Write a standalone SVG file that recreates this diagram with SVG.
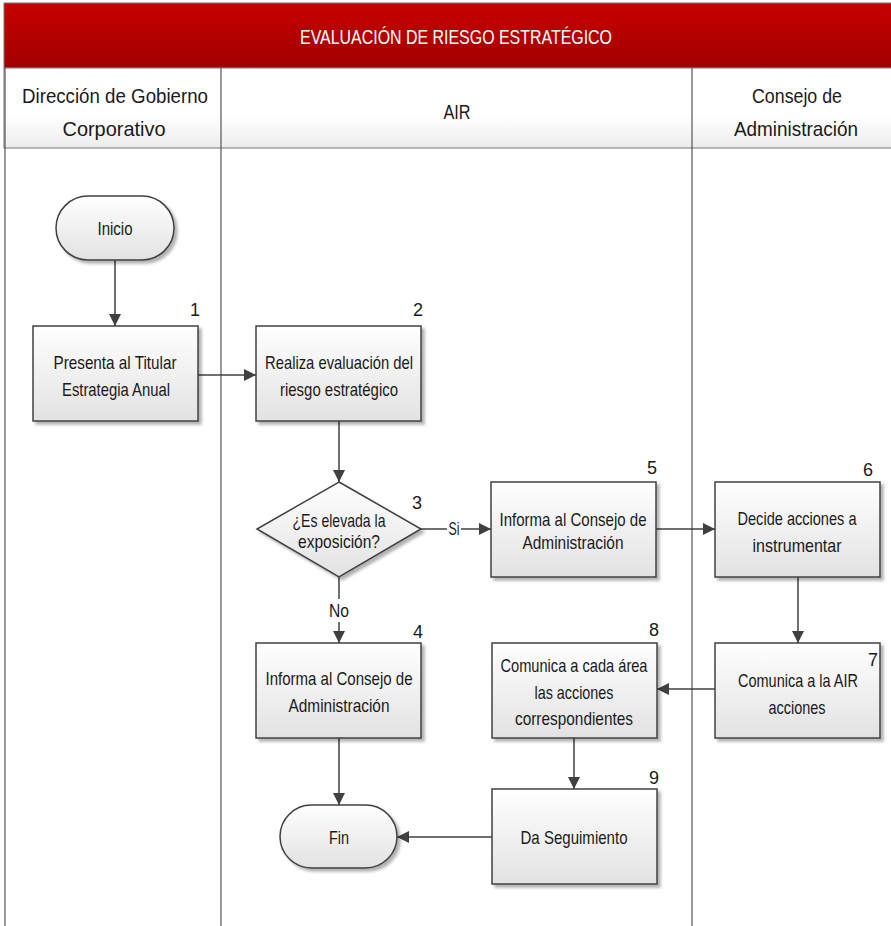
<svg xmlns="http://www.w3.org/2000/svg" width="891" height="926" viewBox="0 0 891 926">
<defs>
<linearGradient id="gBox" x1="0" y1="0" x2="0" y2="1"><stop offset="0" stop-color="#ffffff"/><stop offset="1" stop-color="#e2e2e2"/></linearGradient>
<linearGradient id="gRed" x1="0" y1="0" x2="0" y2="1"><stop offset="0" stop-color="#c80000"/><stop offset="1" stop-color="#a00000"/></linearGradient>
<linearGradient id="gHead" x1="0" y1="0" x2="0" y2="1"><stop offset="0" stop-color="#ffffff"/><stop offset="0.6" stop-color="#ffffff"/><stop offset="1" stop-color="#ececec"/></linearGradient>
<filter id="sh" x="-10%" y="-10%" width="130%" height="130%"><feDropShadow dx="3" dy="3" stdDeviation="1.5" flood-color="#000" flood-opacity="0.3"/></filter>
<marker id="arr" markerUnits="userSpaceOnUse" markerWidth="12" markerHeight="12" viewBox="0 0 12 12" refX="12" refY="6" orient="auto"><path d="M0,0 L12,6 L0,12 z" fill="#404040"/></marker>
<style>
text{font-family:"Liberation Sans",Arial,sans-serif;text-anchor:middle}
.t{font-size:18.5px;fill:#1a1a1a}
.n{font-size:18px;fill:#1a1a1a}
.h{font-size:21px;fill:#1a1a1a}
.node{fill:url(#gBox);stroke:#404040;stroke-width:1.5;filter:url(#sh)}
.c{fill:none;stroke:#404040;stroke-width:1.5;marker-end:url(#arr)}
.ln{stroke:#555;stroke-width:1.2}
</style>
</defs>
<rect width="891" height="926" fill="#ffffff"/>
<g id="frame">
<rect x="4" y="3" width="890" height="65" fill="url(#gRed)" stroke="#777" stroke-width="1"/>
<text x="456" y="44" font-size="21" fill="#ffffff" textLength="312" lengthAdjust="spacingAndGlyphs">EVALUACIÓN DE RIESGO ESTRATÉGICO</text>
<rect x="4" y="68" width="890" height="80" fill="url(#gHead)" stroke="#777" stroke-width="1"/>
<line class="ln" x1="5" y1="68" x2="5" y2="926"/>
<line class="ln" x1="221" y1="68" x2="221" y2="926"/>
<line class="ln" x1="692" y1="68" x2="692" y2="926"/>
<text class="h" x="115" y="103" textLength="186" lengthAdjust="spacingAndGlyphs">Dirección de Gobierno</text>
<text class="h" x="114" y="136" textLength="103" lengthAdjust="spacingAndGlyphs">Corporativo</text>
<text class="h" x="457" y="119" textLength="27" lengthAdjust="spacingAndGlyphs">AIR</text>
<text class="h" x="797" y="103" textLength="90" lengthAdjust="spacingAndGlyphs">Consejo de</text>
<text class="h" x="796" y="136" textLength="124" lengthAdjust="spacingAndGlyphs">Administración</text>
</g>
<g id="connectors">
<line class="c" x1="115" y1="260" x2="115" y2="326"/>
<line class="c" x1="198" y1="375" x2="256" y2="375"/>
<line class="c" x1="339" y1="421" x2="339" y2="482"/>
<line class="c" x1="420" y1="529" x2="491" y2="529"/>
<rect x="447" y="519" width="14" height="20" fill="#ffffff"/>
<text class="t" x="454" y="535" textLength="11" lengthAdjust="spacingAndGlyphs">Si</text>
<line x1="339" y1="577" x2="339" y2="599" stroke="#404040" stroke-width="1.5"/>
<text class="t" x="339" y="617" textLength="20" lengthAdjust="spacingAndGlyphs">No</text>
<line class="c" x1="339" y1="622" x2="339" y2="643"/>
<line class="c" x1="656" y1="529" x2="715" y2="529"/>
<line class="c" x1="798" y1="577" x2="798" y2="643"/>
<line class="c" x1="715" y1="689" x2="657" y2="689"/>
<line class="c" x1="574" y1="738" x2="574" y2="789"/>
<line class="c" x1="492" y1="837" x2="397" y2="837"/>
<line class="c" x1="339" y1="738" x2="339" y2="805"/>
</g>
<g id="inicio">
<rect class="node" x="56" y="196" width="118" height="64" rx="32" ry="32"/>
<text class="t" x="115" y="235" textLength="35" lengthAdjust="spacingAndGlyphs">Inicio</text>
</g>
<g id="n1">
<rect class="node" x="33" y="326" width="165" height="95"/>
<text class="n" x="195" y="316">1</text>
<text class="t" x="115" y="369" textLength="123" lengthAdjust="spacingAndGlyphs">Presenta al Titular</text>
<text class="t" x="116" y="396" textLength="108" lengthAdjust="spacingAndGlyphs">Estrategia Anual</text>
</g>
<g id="n2">
<rect class="node" x="256" y="326" width="165" height="95"/>
<text class="n" x="418" y="316">2</text>
<text class="t" x="339" y="369" textLength="148" lengthAdjust="spacingAndGlyphs">Realiza evaluación del</text>
<text class="t" x="339" y="396" textLength="118" lengthAdjust="spacingAndGlyphs">riesgo estratégico</text>
</g>
<g id="n3">
<polygon class="node" points="339,482 421,529 339,577 257,529"/>
<text class="n" x="417" y="509">3</text>
<text class="t" x="339" y="527" textLength="93" lengthAdjust="spacingAndGlyphs">¿Es elevada la</text>
<text class="t" x="339" y="548" textLength="82" lengthAdjust="spacingAndGlyphs">exposición?</text>
</g>
<g id="n4">
<rect class="node" x="256" y="643" width="165" height="95"/>
<text class="n" x="418" y="638">4</text>
<text class="t" x="339" y="685" textLength="147" lengthAdjust="spacingAndGlyphs">Informa al Consejo de</text>
<text class="t" x="339" y="712" textLength="101" lengthAdjust="spacingAndGlyphs">Administración</text>
</g>
<g id="n5">
<rect class="node" x="491" y="482" width="165" height="95"/>
<text class="n" x="652" y="474">5</text>
<text class="t" x="573" y="526" textLength="147" lengthAdjust="spacingAndGlyphs">Informa al Consejo de</text>
<text class="t" x="573" y="549" textLength="101" lengthAdjust="spacingAndGlyphs">Administración</text>
</g>
<g id="n6">
<rect class="node" x="715" y="482" width="165" height="95"/>
<text class="n" x="868" y="476">6</text>
<text class="t" x="797" y="525" textLength="119" lengthAdjust="spacingAndGlyphs">Decide acciones a</text>
<text class="t" x="797" y="552" textLength="89" lengthAdjust="spacingAndGlyphs">instrumentar</text>
</g>
<g id="n7">
<rect class="node" x="715" y="643" width="165" height="95"/>
<text class="n" x="873" y="666">7</text>
<text class="t" x="798" y="687" textLength="120" lengthAdjust="spacingAndGlyphs">Comunica a la AIR</text>
<text class="t" x="797" y="714" textLength="57" lengthAdjust="spacingAndGlyphs">acciones</text>
</g>
<g id="n8">
<rect class="node" x="492" y="643" width="165" height="95"/>
<text class="n" x="654" y="636">8</text>
<text class="t" x="574" y="672" textLength="147" lengthAdjust="spacingAndGlyphs">Comunica a cada área</text>
<text class="t" x="574" y="699" textLength="79" lengthAdjust="spacingAndGlyphs">las acciones</text>
<text class="t" x="574" y="725" textLength="118" lengthAdjust="spacingAndGlyphs">correspondientes</text>
</g>
<g id="n9">
<rect class="node" x="492" y="789" width="165" height="95"/>
<text class="n" x="654" y="784">9</text>
<text class="t" x="574" y="844" textLength="107" lengthAdjust="spacingAndGlyphs">Da Seguimiento</text>
</g>
<g id="fin">
<rect class="node" x="280" y="805" width="117" height="63" rx="31.5" ry="31.5"/>
<text class="t" x="339" y="844" textLength="20" lengthAdjust="spacingAndGlyphs">Fin</text>
</g>
</svg>
